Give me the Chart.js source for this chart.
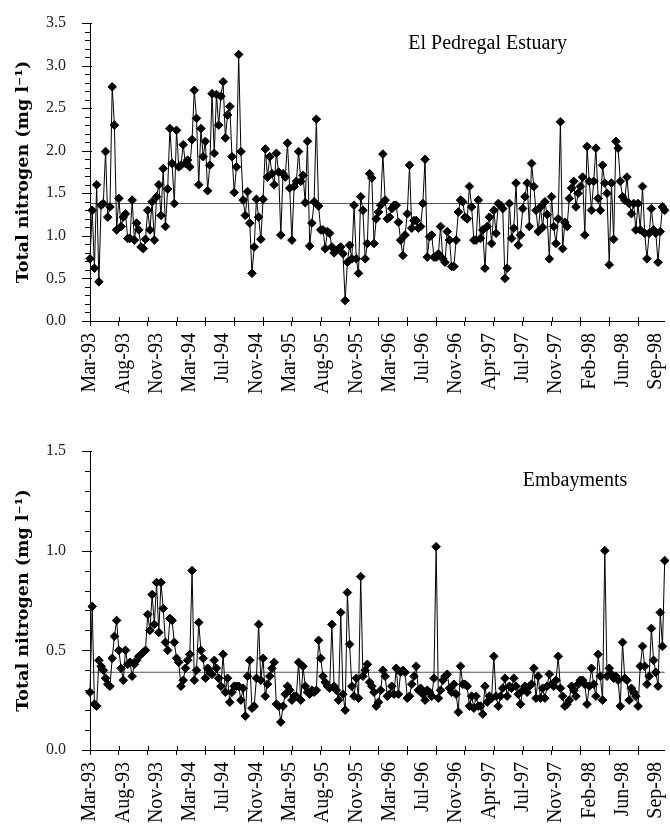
<!DOCTYPE html>
<html>
<head>
<meta charset="utf-8">
<script src="https://cdn.jsdelivr.net/npm/chart.js@4.4.1/dist/chart.umd.min.js"></script>
<style>
  html, body { margin: 0; padding: 0; background: #fff; }
  #page { width: 670px; height: 825px; position: relative; }
  .panel { position: absolute; left: 0; width: 670px; }
  #topWrap { top: 0; height: 425px; }
  #botWrap { top: 425px; height: 400px; }
</style>
</head>
<body>
<div id="page">
  <div class="panel" id="topWrap"><canvas id="estuary"></canvas></div>
  <div class="panel" id="botWrap"><canvas id="embay"></canvas></div>
</div>
<script>
// x axis: one category per sample, a tick mark every 13 samples, a label every 15
const tickLabels = ['Mar-93', 'Aug-93', 'Nov-93', 'Mar-94', 'Jul-94', 'Nov-94', 'Mar-95', 'Aug-95', 'Nov-95',
  'Mar-96', 'Jul-96', 'Nov-96', 'Apr-97', 'Jul-97', 'Nov-97', 'Feb-98', 'Jun-98', 'Sep-98'];
const labelEvery = 15;
const tickEvery = 13;

// total nitrogen, mg/l
const estuaryTN = [
  0.73, 1.30, 0.62, 1.60, 0.46, 1.36, 1.38, 1.99, 1.22, 1.34, 2.75, 2.30, 1.07, 1.44, 1.11, 1.22, 1.26, 0.97, 0.97, 1.42,
  0.95, 1.15, 1.07, 0.87, 0.85, 0.96, 1.30, 1.07, 1.40, 0.95, 1.46, 1.60, 1.24, 1.79, 1.11, 1.55, 2.26, 1.85, 1.38, 2.24,
  1.81, 1.83, 2.07, 1.85, 1.89, 1.81, 2.13, 2.71, 2.38, 1.60, 2.26, 1.93, 2.11, 1.53, 1.83, 2.67, 1.97, 2.66, 2.30, 2.64,
  2.81, 2.15, 2.42, 2.52, 1.93, 1.51, 1.81, 3.13, 1.99, 1.42, 1.24, 1.52, 1.15, 0.56, 0.87, 1.43, 1.22, 0.96, 1.43, 2.02,
  1.69, 1.93, 1.73, 1.60, 1.97, 1.75, 1.01, 1.73, 1.69, 2.09, 1.56, 0.95, 1.58, 1.64, 1.99, 1.64, 1.71, 1.39, 2.11, 0.88,
  1.15, 1.40, 2.37, 1.35, 1.07, 1.07, 0.85, 1.05,
  1.03, 0.87, 0.80, 0.83, 0.85, 0.87, 0.79, 0.24, 0.69, 0.89, 0.73, 1.36, 0.73, 0.56, 1.46, 1.30, 0.73, 0.91, 1.73, 1.68,
  0.91, 1.20, 1.28, 1.36, 1.96, 1.42, 1.20, 1.22, 1.32, 1.36, 1.36, 1.16, 0.95, 0.77, 1.01, 1.26, 1.83, 1.09, 1.18, 1.18,
  1.09, 1.11, 1.38, 1.90, 0.75, 0.99, 1.01, 0.75, 0.75, 0.79, 1.11, 0.73, 0.69, 1.05, 0.95, 0.64, 0.64, 0.95, 1.28, 1.42,
  1.40, 1.22, 1.20, 1.58, 1.34, 0.95, 0.95, 1.42, 0.97, 1.07, 0.62, 1.11, 1.22, 0.91, 1.30, 1.03, 1.38, 1.36, 1.32, 0.50,
  0.62, 1.38, 0.97, 1.09, 1.62, 0.89, 1.01, 1.32, 1.46, 1.62, 1.11, 1.85, 1.58, 1.30, 1.05, 1.34, 1.10, 1.40, 1.25, 0.73,
  1.46, 1.11, 0.91, 1.20, 2.34, 0.85, 1.16, 1.11, 1.44, 1.56, 1.64, 1.34, 1.50, 1.58, 1.69, 1.01, 2.05, 1.64, 1.30, 1.64,
  2.03, 1.44, 1.30, 1.83, 1.62, 1.50, 0.66, 1.62, 0.96, 2.11, 2.03, 1.64, 1.46, 1.42, 1.69, 1.38, 1.26, 1.38, 1.07, 1.38,
  1.07, 1.58, 1.03, 0.73, 1.03, 1.32, 1.07, 1.03, 0.69, 1.05, 1.34, 1.30
];
const embaymentTN = [
  0.29, 0.72, 0.23, 0.22, 0.45, 0.42, 0.40, 0.36, 0.33, 0.32, 0.46, 0.57, 0.65, 0.50, 0.41, 0.35, 0.50, 0.43, 0.44, 0.37,
  0.43, 0.45, 0.47, 0.48, 0.49, 0.50, 0.68, 0.60, 0.78, 0.63, 0.84, 0.59, 0.84, 0.71, 0.54, 0.50, 0.66, 0.65, 0.54, 0.46,
  0.44, 0.32, 0.35, 0.41, 0.45, 0.48, 0.90, 0.35, 0.40, 0.64, 0.50, 0.46, 0.36, 0.41, 0.39, 0.38, 0.45, 0.41, 0.36, 0.32,
  0.48, 0.29, 0.36, 0.24, 0.29, 0.32, 0.32, 0.32, 0.25, 0.31, 0.17, 0.37, 0.45, 0.21, 0.22, 0.36, 0.63, 0.35, 0.46, 0.27,
  0.33, 0.37, 0.41, 0.44, 0.23, 0.22, 0.14, 0.22, 0.28, 0.32, 0.30, 0.25, 0.27, 0.27, 0.44, 0.25, 0.42, 0.32, 0.29, 0.28,
  0.30, 0.29, 0.30, 0.55, 0.46, 0.37, 0.34, 0.32, 0.31,
  0.63, 0.32, 0.30, 0.25, 0.69, 0.28, 0.20, 0.79, 0.53, 0.32, 0.27, 0.36, 0.26, 0.87, 0.37, 0.40, 0.43, 0.34, 0.32, 0.29,
  0.22, 0.24, 0.30, 0.40, 0.37, 0.27, 0.28, 0.32, 0.28, 0.41, 0.28, 0.39, 0.40, 0.39, 0.26, 0.27, 0.33, 0.37, 0.42, 0.30,
  0.31, 0.28, 0.25, 0.30, 0.29, 0.27, 0.36, 1.02, 0.26, 0.30, 0.35, 0.37, 0.38, 0.31, 0.29, 0.33, 0.28, 0.19, 0.42, 0.33,
  0.33, 0.32, 0.22, 0.27, 0.21, 0.27, 0.22, 0.22, 0.18, 0.32, 0.24, 0.27, 0.26, 0.47, 0.27, 0.22, 0.27, 0.31, 0.36, 0.27,
  0.32, 0.31, 0.36, 0.32, 0.28, 0.23, 0.30, 0.32, 0.29, 0.32, 0.33, 0.41, 0.26, 0.37, 0.26, 0.31, 0.26, 0.32, 0.38, 0.33,
  0.32, 0.35, 0.47, 0.31, 0.27, 0.22, 0.23, 0.25, 0.32, 0.30, 0.27, 0.33, 0.35, 0.35, 0.33, 0.23, 0.32, 0.41, 0.33, 0.27,
  0.48, 0.37, 0.25, 1.00, 0.37, 0.41, 0.38, 0.36, 0.37, 0.35, 0.22, 0.54, 0.36, 0.35, 0.25, 0.31, 0.29, 0.27, 0.22, 0.42,
  0.52, 0.42, 0.33, 0.37, 0.61, 0.45, 0.39, 0.32, 0.69, 0.52, 0.95
];
const estuaryMean = 1.38;
const embaymentMean = 0.39;

const samples = estuaryTN.map((_, i) => String(i + 1));

Chart.defaults.font.family = '"Liberation Serif", serif';
Chart.defaults.color = '#000';

// text label inside the plot area
const panelLabel = {
  id: 'panelLabel',
  afterDraw(chart, args, opts) {
    const {ctx, chartArea} = chart;
    ctx.save();
    ctx.font = '20px "Liberation Serif"';
    ctx.fillStyle = '#000';
    ctx.textAlign = 'center';
    ctx.fillText(opts.text, chartArea.left + opts.x * (chartArea.right - chartArea.left), chartArea.top + opts.y);
    ctx.restore();
  }
};

// excel-style tick marks that cross the axis line
const crossTicks = {
  id: 'crossTicks',
  afterDraw(chart) {
    const {ctx, scales: {x, y}} = chart;
    ctx.save();
    ctx.strokeStyle = '#000';
    ctx.lineWidth = 1;
    ctx.beginPath();
    x.ticks.forEach((t, i) => {
      if (i % tickEvery) return;
      const px = Math.round(x.getPixelForTick(i)) + 0.5;
      ctx.moveTo(px, y.bottom);
      ctx.lineTo(px, y.bottom - 4);
    });
    y.ticks.forEach((t, i) => {
      const py = Math.round(y.getPixelForTick(i)) + 0.5;
      const major = Math.round(t.value * 10) % 5 === 0;
      ctx.moveTo(x.left - (major ? 8 : 5), py);
      ctx.lineTo(x.left + (major ? 2 : 1), py);
    });
    ctx.stroke();
    ctx.restore();
  }
};

function makeChart(id, values, mean, yMax, label, padTop, xHeight) {
  return new Chart(document.getElementById(id), {
    type: 'line',
    data: {
      labels: samples,
      datasets: [{
        data: values,
        borderColor: '#000',
        borderWidth: 1,
        pointStyle: 'rectRot',
        pointRadius: 4.3,
        pointBackgroundColor: '#000',
        pointBorderColor: '#000',
        pointBorderWidth: 1,
        tension: 0
      }, {
        data: [{x: samples[0], y: mean}, {x: samples[samples.length - 1], y: mean}],
        borderColor: '#555',
        borderWidth: 1.2,
        pointRadius: 0
      }]
    },
    options: {
      responsive: true,
      maintainAspectRatio: false,
      animation: false,
      layout: {padding: {top: padTop, right: 2, left: 0, bottom: 0}},
      plugins: {
        legend: {display: false},
        tooltip: {enabled: false},
        panelLabel: label
      },
      scales: {
        x: {
          type: 'category',
          border: {color: '#000', width: 1},
          grid: {
            drawOnChartArea: false,
            tickLength: 5,
            color: ctx => ctx.index % tickEvery === 0 ? '#000' : 'rgba(0,0,0,0)',
            tickColor: ctx => ctx.index % tickEvery === 0 ? '#000' : 'rgba(0,0,0,0)'
          },
          ticks: {
            autoSkip: false,
            minRotation: 90,
            maxRotation: 90,
            padding: 7,
            font: {size: 20},
            callback: (v, i) => i % labelEvery === 0 ? tickLabels[i / labelEvery] : ''
          },
          afterFit: s => { s.height = xHeight; s.paddingLeft = 0; s.paddingRight = 0; }
        },
        y: {
          min: 0,
          max: yMax,
          border: {color: '#000', width: 1},
          grid: {display: false},
          ticks: {
            stepSize: 0.1,
            autoSkip: false,
            padding: 16,
            font: {size: 16},
            color: '#222',
            callback: v => Math.round(v * 10) % 5 === 0 ? v.toFixed(1) : ''
          },
          title: {
            display: true,
            text: 'Total nitrogen (mg l⁻¹)',
            font: {family: '"DejaVu Serif", serif', size: 17.5, weight: 'bold'},
            padding: {top: 13, bottom: 0}
          },
          afterFit: s => { s.width = 90; s.paddingTop = 0; s.paddingBottom = 0; }
        }
      }
    },
    plugins: [panelLabel, crossTicks]
  });
}

makeChart('estuary', estuaryTN, estuaryMean, 3.5, {text: 'El Pedregal Estuary', x: 0.692, y: 26}, 23, 104);
makeChart('embay', embaymentTN, embaymentMean, 1.5, {text: 'Embayments', x: 0.844, y: 35}, 26, 75);
</script>
</body>
</html>
